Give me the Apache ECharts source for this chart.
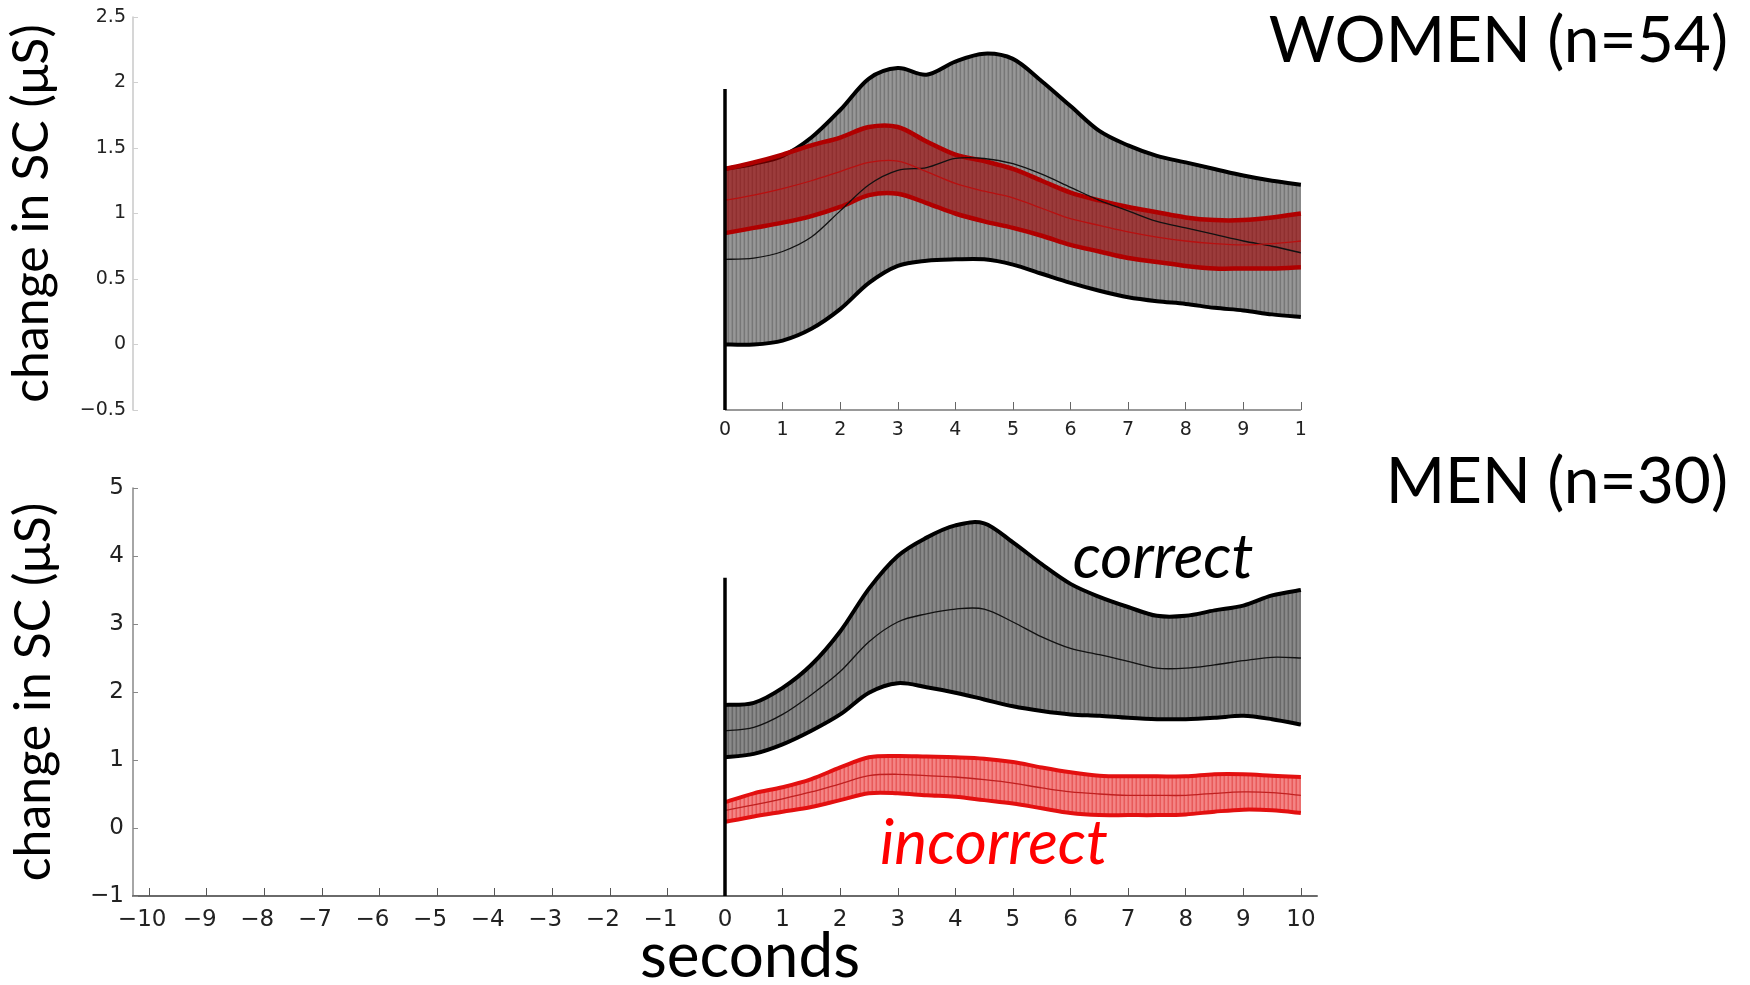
<!DOCTYPE html>
<html>
<head>
<meta charset="utf-8">
<script src="https://cdn.jsdelivr.net/npm/echarts@6/dist/echarts.min.js"></script>
<style>
  html, body { margin: 0; padding: 0; background: #fff; }
  #chart { width: 1750px; height: 985px; }
</style>
</head>
<body>
<div id="chart"></div>
<script>
// seconds after stimulus onset (the -10..0 part of each panel is empty)
const seconds = [0, 0.5, 1, 1.5, 2, 2.5, 3, 3.5, 4, 4.5, 5, 5.5, 6, 6.5, 7, 7.5, 8, 8.5, 9, 9.5, 10]
const xTicks = [-10, -9, -8, -7, -6, -5, -4, -3, -2, -1, 0, 1, 2, 3, 4, 5, 6, 7, 8, 9, 10]
const xTicksTop = [0, 1, 2, 3, 4, 5, 6, 7, 8, 9, 10]

// WOMEN (n=54), change in SC (µS)
const womenCorrectUpper = [1.34, 1.38, 1.44, 1.58, 1.79, 2.03, 2.11, 2.06, 2.16, 2.22, 2.18, 2.01, 1.82, 1.63, 1.52, 1.44, 1.39, 1.34, 1.29, 1.25, 1.22]
const womenCorrectMean = [0.65, 0.66, 0.71, 0.82, 1.02, 1.22, 1.33, 1.35, 1.42, 1.42, 1.38, 1.30, 1.20, 1.10, 1.02, 0.94, 0.89, 0.84, 0.79, 0.75, 0.70]
const womenCorrectLower = [0.00, 0.00, 0.03, 0.12, 0.27, 0.47, 0.60, 0.64, 0.65, 0.65, 0.61, 0.54, 0.47, 0.41, 0.36, 0.33, 0.31, 0.28, 0.26, 0.23, 0.21]
const womenIncorrectUpper = [1.34, 1.39, 1.45, 1.52, 1.58, 1.66, 1.66, 1.55, 1.45, 1.40, 1.34, 1.25, 1.16, 1.10, 1.05, 1.01, 0.97, 0.95, 0.95, 0.97, 1.00]
const womenIncorrectMean = [1.10, 1.14, 1.19, 1.25, 1.32, 1.39, 1.40, 1.32, 1.23, 1.17, 1.12, 1.04, 0.96, 0.91, 0.86, 0.82, 0.79, 0.77, 0.76, 0.77, 0.79]
const womenIncorrectLower = [0.85, 0.89, 0.93, 0.98, 1.05, 1.14, 1.15, 1.08, 1.00, 0.94, 0.89, 0.83, 0.76, 0.71, 0.66, 0.63, 0.60, 0.58, 0.58, 0.58, 0.59]

// MEN (n=30)
const menCorrectUpper = [1.81, 1.84, 2.06, 2.40, 2.89, 3.52, 4.00, 4.27, 4.45, 4.48, 4.20, 3.88, 3.59, 3.40, 3.25, 3.12, 3.12, 3.20, 3.27, 3.42, 3.50]
const menCorrectMean = [1.43, 1.48, 1.67, 1.96, 2.30, 2.74, 3.03, 3.15, 3.22, 3.22, 3.03, 2.81, 2.64, 2.55, 2.45, 2.35, 2.35, 2.40, 2.46, 2.51, 2.50]
const menCorrectLower = [1.04, 1.09, 1.23, 1.43, 1.67, 1.99, 2.13, 2.07, 1.99, 1.89, 1.79, 1.72, 1.67, 1.65, 1.62, 1.60, 1.60, 1.62, 1.65, 1.60, 1.52]
const menIncorrectUpper = [0.38, 0.51, 0.60, 0.72, 0.89, 1.04, 1.06, 1.05, 1.04, 1.02, 0.97, 0.89, 0.82, 0.77, 0.76, 0.76, 0.76, 0.79, 0.79, 0.77, 0.75]
const menIncorrectMean = [0.26, 0.34, 0.43, 0.53, 0.65, 0.77, 0.79, 0.77, 0.75, 0.71, 0.66, 0.59, 0.53, 0.50, 0.48, 0.48, 0.48, 0.51, 0.53, 0.52, 0.48]
const menIncorrectLower = [0.09, 0.17, 0.24, 0.31, 0.41, 0.51, 0.51, 0.48, 0.46, 0.41, 0.36, 0.29, 0.22, 0.19, 0.19, 0.19, 0.20, 0.24, 0.27, 0.26, 0.22]

// stimulus onset marker (y range at x = 0) and visible top x-axis span
const womenOnset = [-0.5, 1.95]
const menOnset = [-1, 3.68]
const womenAxisSpan = [0, 10]

const FONT = 'Lato, "Noto Sans", sans-serif'
const TICK_FONT = '"DejaVu Sans", sans-serif'

// MATLAB-style negative labels: digits centred on the tick, minus hanging left
function tickFmt(v) {
  return v < 0 ? '\u2212' + Math.abs(v) + '{pad|}' : String(v)
}
function yFmt(v) {
  return v < 0 ? '\u2212' + Math.abs(v) : String(v)
}

// the bands are drawn as many vertical error bars in the original,
// so fill them with a fine vertical stripe
function stripes(colors) {
  const c = document.createElement('canvas')
  c.width = colors.length
  c.height = 1
  const ctx = c.getContext('2d')
  colors.forEach((col, i) => {
    ctx.fillStyle = col
    ctx.fillRect(i, 0, 1, 1)
  })
  return { image: c, repeat: 'repeat' }
}

// Catmull-Rom through screen points, as cubic bezier segments
function curveTo(pts) {
  let d = ''
  for (let i = 0; i < pts.length - 1; i++) {
    const p0 = pts[Math.max(i - 1, 0)]
    const p1 = pts[i]
    const p2 = pts[i + 1]
    const p3 = pts[Math.min(i + 2, pts.length - 1)]
    const c1x = p1[0] + (p2[0] - p0[0]) / 6
    const c1y = p1[1] + (p2[1] - p0[1]) / 6
    const c2x = p2[0] - (p3[0] - p1[0]) / 6
    const c2y = p2[1] - (p3[1] - p1[1]) / 6
    d += ' C' + c1x + ',' + c1y + ' ' + c2x + ',' + c2y + ' ' + p2[0] + ',' + p2[1]
  }
  return d
}

function band(axis, lower, upper, fill, edge, edgeWidth, z) {
  return {
    type: 'custom',
    xAxisIndex: axis,
    yAxisIndex: axis,
    data: [[0, lower[0]]],
    clip: false,
    z,
    renderItem: (params, api) => {
      const up = seconds.map((t, i) => api.coord([t, upper[i]]))
      const lo = seconds.map((t, i) => api.coord([t, lower[i]])).reverse()
      const upD = 'M' + up[0][0] + ',' + up[0][1] + curveTo(up)
      const loD = 'M' + lo[0][0] + ',' + lo[0][1] + curveTo(lo)
      const areaD = upD + ' L' + lo[0][0] + ',' + lo[0][1] + curveTo(lo) + ' Z'
      return {
        type: 'group',
        children: [
          { type: 'path', shape: { pathData: areaD }, style: { fill, stroke: null } },
          { type: 'path', shape: { pathData: upD }, style: { fill: 'none', stroke: edge, lineWidth: edgeWidth, lineJoin: 'round' } },
          { type: 'path', shape: { pathData: loD }, style: { fill: 'none', stroke: edge, lineWidth: edgeWidth, lineJoin: 'round' } },
        ],
      }
    },
  }
}

function meanLine(axis, values, color, z) {
  return {
    type: 'custom',
    xAxisIndex: axis,
    yAxisIndex: axis,
    data: [[0, values[0]]],
    clip: false,
    z,
    renderItem: (params, api) => {
      const pts = seconds.map((t, i) => api.coord([t, values[i]]))
      return {
        type: 'path',
        shape: { pathData: 'M' + pts[0][0] + ',' + pts[0][1] + curveTo(pts) },
        style: { fill: 'none', stroke: color, lineWidth: 1.3 },
      }
    },
  }
}

function onsetLine(axis, range) {
  return {
    type: 'line',
    xAxisIndex: axis,
    yAxisIndex: axis,
    data: [[0, range[0]], [0, range[1]]],
    symbol: 'none',
    clip: false,
    lineStyle: { color: '#000', width: 3.5 },
    z: 10,
  }
}

const chart = echarts.init(document.getElementById('chart'))

const yName = 'change in SC (\u03bcS)'

const option = {
  animation: false,
  backgroundColor: '#fff',
  grid: [
    { left: 133, top: 17, width: 1184, height: 393, outerBoundsMode: 'none' },
    { left: 133, top: 488, width: 1184, height: 408, outerBoundsMode: 'none' },
  ],
  xAxis: [
    {
      gridIndex: 0,
      type: 'value',
      min: -10.28,
      max: 10.28,
      splitLine: { show: false },
      axisLine: { show: false, onZero: false },
      axisTick: { customValues: xTicksTop, inside: true, length: 8, lineStyle: { color: '#666' } },
      axisLabel: {
        customValues: xTicksTop,
        margin: 11,
        color: '#222',
        fontSize: 19,
        fontFamily: TICK_FONT,
        // the original figure is cropped through the "10" label
        formatter: v => (v === 10 ? '1' : tickFmt(v)),
      },
    },
    {
      gridIndex: 1,
      type: 'value',
      min: -10.28,
      max: 10.28,
      splitLine: { show: false },
      axisLine: { onZero: false, lineStyle: { color: '#6a6a6a', width: 2 } },
      axisTick: { customValues: xTicks, inside: true, length: 8, lineStyle: { color: '#555' } },
      axisLabel: {
        customValues: xTicks,
        margin: 13,
        color: '#222',
        fontSize: 23,
        fontFamily: TICK_FONT,
        formatter: tickFmt,
        rich: { pad: { width: 14 } },
      },
    },
  ],
  yAxis: [
    {
      gridIndex: 0,
      type: 'value',
      min: -0.5,
      max: 2.5,
      interval: 0.5,
      splitLine: { show: false },
      axisLine: { show: true, onZero: false, lineStyle: { color: '#c8c8c8', width: 1.5 } },
      axisTick: { inside: true, length: 5, lineStyle: { color: '#d0d0d0' } },
      axisLabel: { color: '#222', fontSize: 19, fontFamily: TICK_FONT, margin: 7, formatter: yFmt },
      name: yName,
      nameLocation: 'middle',
      nameGap: 76,
      nameRotate: 90,
      nameTextStyle: { color: '#000', fontSize: 50, fontFamily: FONT },
    },
    {
      gridIndex: 1,
      type: 'value',
      min: -1,
      max: 5,
      interval: 1,
      splitLine: { show: false },
      axisLine: { show: true, onZero: false, lineStyle: { color: '#888', width: 1.5 } },
      axisTick: { inside: true, length: 5, lineStyle: { color: '#888' } },
      axisLabel: { color: '#222', fontSize: 23, fontFamily: TICK_FONT, margin: 9, formatter: yFmt },
      name: yName,
      nameLocation: 'middle',
      nameGap: 74,
      nameRotate: 90,
      nameTextStyle: { color: '#000', fontSize: 50, fontFamily: FONT },
    },
  ],
  series: [
    // top x-axis is only visible from 0 to 10
    {
      type: 'line',
      xAxisIndex: 0,
      yAxisIndex: 0,
      data: womenAxisSpan.map(x => [x, -0.5]),
      symbol: 'none',
      clip: false,
      lineStyle: { color: '#777', width: 1.5 },
      z: 1,
    },
    band(0, womenCorrectLower, womenCorrectUpper, stripes(['#777', '#939393', '#979797', '#8a8a8a']), '#000', 4, 2),
    band(0, womenIncorrectLower, womenIncorrectUpper, 'rgba(160,0,0,0.6)', '#b00000', 4.5, 3),
    meanLine(0, womenCorrectMean, '#111', 5),
    meanLine(0, womenIncorrectMean, '#b81010', 5),
    onsetLine(0, womenOnset),

    band(1, menCorrectLower, menCorrectUpper, stripes(['#686868', '#858585', '#8a8a8a', '#7a7a7a']), '#000', 4, 2),
    band(1, menIncorrectLower, menIncorrectUpper, stripes(['#e85a5a', '#f38282', '#f48585', '#ee6e6e']), '#e31010', 4, 3),
    meanLine(1, menCorrectMean, '#111', 5),
    meanLine(1, menIncorrectMean, '#c02020', 5),
    onsetLine(1, menOnset),
  ],
  graphic: [
    { type: 'text', z: 100, x: 1728, y: 41, style: { text: 'WOMEN (n=54)', fill: '#000', font: '64px ' + FONT, align: 'right', verticalAlign: 'middle' } },
    { type: 'text', z: 100, x: 1728, y: 482, style: { text: 'MEN (n=30)', fill: '#000', font: '64px ' + FONT, align: 'right', verticalAlign: 'middle' } },
    { type: 'text', z: 100, x: 1163, y: 558, style: { text: 'correct', fill: '#000', font: 'italic 62px ' + FONT, align: 'center', verticalAlign: 'middle' } },
    { type: 'text', z: 100, x: 994, y: 844, style: { text: 'incorrect', fill: '#ff0000', font: 'italic 62px ' + FONT, align: 'center', verticalAlign: 'middle' } },
    { type: 'text', z: 100, x: 750, y: 957, style: { text: 'seconds', fill: '#000', font: '62px ' + FONT, align: 'center', verticalAlign: 'middle' } },
  ],
}

chart.setOption(option)
</script>
</body>
</html>
